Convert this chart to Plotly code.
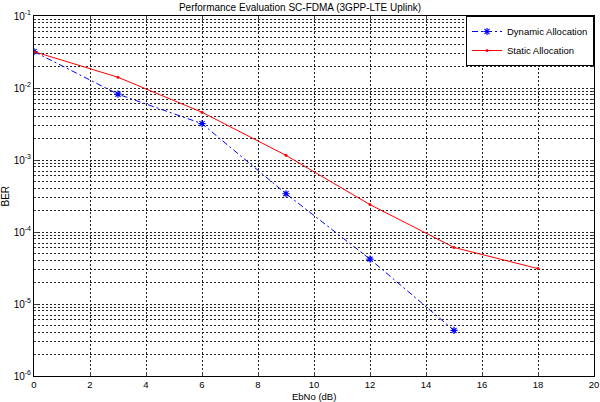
import plotly.graph_objects as go

ebno_dyn = [0, 3, 6, 9, 12, 15]
ber_dyn = [0.032, 0.0082, 0.0032, 0.00034, 0.000042, 0.0000043]
ebno_sta = [0, 3, 6, 9, 12, 15, 18]
ber_sta = [0.032, 0.0141, 0.0046, 0.00116, 0.00024, 0.000061, 0.000031]

ytick_vals = [1e-6, 1e-5, 1e-4, 1e-3, 1e-2, 1e-1]
ytick_text = ["10<sup>-6</sup>", "10<sup>-5</sup>", "10<sup>-4</sup>",
              "10<sup>-3</sup>", "10<sup>-2</sup>", "10<sup>-1</sup>"]
xtick_vals = list(range(0, 21, 2))

fig = go.Figure()
fig.add_trace(go.Scatter(
    x=ebno_dyn, y=ber_dyn, mode="lines+markers", name="Dynamic Allocation",
    line=dict(color="#0000ff", width=1, dash="6px,3px,2px,3px"),
    marker=dict(symbol="asterisk-open", size=6, color="#0000ff", line=dict(width=1.2, color="#0000ff")),
))
fig.add_trace(go.Scatter(
    x=ebno_sta, y=ber_sta, mode="lines+markers", name="Static Allocation",
    line=dict(color="#ff0000", width=1),
    marker=dict(symbol="circle", size=3, color="#ff0000"),
))

grid = dict(showgrid=True, gridcolor="#222222", griddash="2px,2px", gridwidth=1)
fig.update_xaxes(
    range=[0, 20], tickvals=xtick_vals, ticks="inside", ticklen=4,
    showline=True, linecolor="black", linewidth=1, mirror="ticks",
    zeroline=False, automargin=False,
    tickfont=dict(size=9.5), **grid,
)
fig.update_yaxes(
    type="log", range=[-6, -1], tickvals=ytick_vals, ticktext=ytick_text,
    ticks="inside", ticklen=4,
    showline=True, linecolor="black", linewidth=1, mirror="ticks",
    zeroline=False, automargin=False,
    tickfont=dict(size=10), **grid,
    minor=dict(showgrid=True, gridcolor="#222222", griddash="2px,2px", gridwidth=1,
               ticks="inside", ticklen=2, dtick="D1"),
)
fig.add_annotation(text="EbNo (dB)", xref="paper", yref="paper", x=0.5, y=0,
                   yshift=-13, yanchor="top", showarrow=False, font=dict(size=9.5))
fig.add_annotation(text="BER", xref="paper", yref="paper", x=0, y=0.5,
                   xshift=-22, xanchor="right", textangle=-90, showarrow=False,
                   font=dict(size=10))
fig.update_layout(
    width=600, height=402,
    margin=dict(l=34, r=6, t=16, b=26),
    paper_bgcolor="white", plot_bgcolor="white",
    font=dict(family="Liberation Sans", size=10, color="black"),
    title=dict(text="Performance Evaluation SC-FDMA (3GPP-LTE Uplink)",
               x=0.5, xanchor="center", y=1 - 7 / 402, yanchor="middle", font=dict(size=10)),
    legend=dict(x=1, xanchor="right", y=1, yanchor="top",
                bordercolor="black", borderwidth=1, bgcolor="white",
                font=dict(family="Liberation Sans", size=9.5), tracegroupgap=0, itemwidth=30),
    showlegend=True,
)
fig.write_html("out.html", config={"displayModeBar": False},
               post_script="document.body.style.margin='0';")
